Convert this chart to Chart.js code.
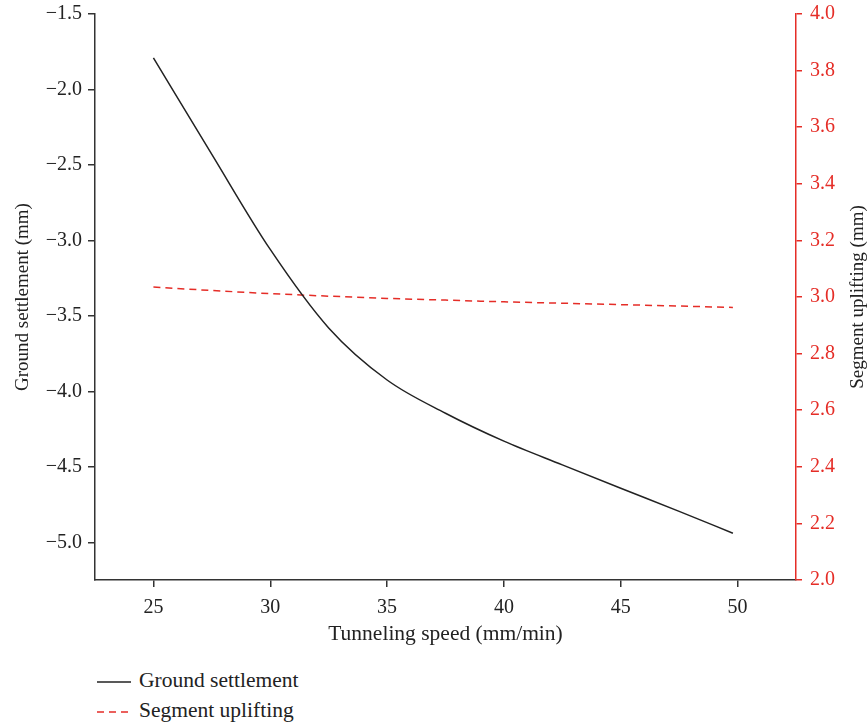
<!DOCTYPE html>
<html>
<head>
<meta charset="utf-8">
<script src="https://cdn.jsdelivr.net/npm/chart.js@4/dist/chart.umd.min.js"></script>
<style>
  body { margin: 0; background: #fff; }
  #wrap { position: relative; width: 868px; height: 650px; }
  .legend { position: absolute; left: 97px; font-family: "Liberation Serif", serif; font-size: 21.5px; color: #222; line-height: 24px; }
  .legend svg { vertical-align: middle; margin-right: 8px; }
</style>
</head>
<body>
<div id="wrap"><canvas id="lineChart" width="868" height="650"></canvas></div>
<div class="legend" style="top:668px"><svg width="34" height="4"><line x1="0" y1="2" x2="34" y2="2" stroke="#222" stroke-width="1.5"/></svg>Ground settlement</div>
<div class="legend" style="top:698px"><svg width="34" height="4"><line x1="0" y1="2" x2="34" y2="2" stroke="#e52d27" stroke-width="1.5" stroke-dasharray="7 5"/></svg>Segment uplifting</div>
<script>
// tunneling speed (mm/min)
const speed = [25, 27.5, 30, 32.5, 35, 37.5, 40, 42.5, 45, 47.5, 49.8];
// ground settlement (mm)
const settlement = [-1.79, -2.43, -3.06, -3.58, -3.925, -4.145, -4.33, -4.487, -4.642, -4.795, -4.94];
// segment uplifting (mm)
const uplifting = [3.035, 3.023, 3.012, 3.003, 2.995, 2.989, 2.983, 2.978, 2.973, 2.968, 2.963];

const xTicks = [25, 30, 35, 40, 45, 50];
const leftTicks = [-1.5, -2.0, -2.5, -3.0, -3.5, -4.0, -4.5, -5.0];
const rightTicks = [2.0, 2.2, 2.4, 2.6, 2.8, 3.0, 3.2, 3.4, 3.6, 3.8, 4.0];
const rightTitle = "Segment uplifting (mm)";

const RED = '#e52d27';
const TICK_FONT = { family: '"Liberation Serif", serif', size: 20 };
const TITLE_FONT = { family: '"Liberation Serif", serif', size: 19 };

function fmt(v) {
  return v.toFixed(1).replace('-', '\u2212');
}

// keep the plot box where the reference has it
function fitY(width) {
  return (scale) => {
    scale.width = width;
    scale.paddingTop = 0;
    scale.paddingBottom = 0;
  };
}

const rightTitlePlugin = {
  id: 'rightTitle',
  afterDraw(chart) {
    const ctx = chart.ctx;
    const area = chart.chartArea;
    ctx.save();
    ctx.translate(858, (area.top + area.bottom) / 2);
    ctx.rotate(-Math.PI / 2);
    ctx.font = '19px "Liberation Serif", serif';
    ctx.fillStyle = '#222';
    ctx.textAlign = 'center';
    ctx.textBaseline = 'middle';
    ctx.fillText(rightTitle, 0, 0);
    ctx.restore();
  }
};

const ctx = document.getElementById('lineChart');
let lineChart = new Chart(ctx, {
  type: 'line',
  data: {
    datasets: [{
      label: 'Ground settlement',
      data: speed.map((s, i) => ({ x: s, y: settlement[i] })),
      borderColor: '#222',
      borderWidth: 1.5,
      pointRadius: 0,
      cubicInterpolationMode: 'monotone',
      yAxisID: 'y'
    }, {
      label: 'Segment uplifting',
      data: speed.map((s, i) => ({ x: s, y: uplifting[i] })),
      borderColor: RED,
      borderWidth: 1.5,
      borderDash: [7, 5],
      pointRadius: 0,
      cubicInterpolationMode: 'monotone',
      yAxisID: 'y2'
    }]
  },
  options: {
    responsive: false,
    animation: false,
    layout: { autoPadding: false, padding: { top: 14, left: 0, right: 0, bottom: 0 } },
    plugins: {
      legend: { display: false },
      tooltip: { enabled: false }
    },
    scales: {
      x: {
        type: 'linear',
        min: 22.5,
        max: 52.5,
        afterBuildTicks: (scale) => { scale.ticks = xTicks.map(v => ({ value: v })); },
        afterFit: (scale) => { scale.height = 70; scale.paddingLeft = 0; scale.paddingRight = 0; },
        border: { color: '#333', width: 1.5 },
        grid: { drawOnChartArea: false, tickLength: 7, color: '#333', lineWidth: 1.5 },
        ticks: { color: '#222', font: TICK_FONT, padding: 9, maxRotation: 0 },
        title: { display: true, text: 'Tunneling speed (mm/min)', color: '#222', font: { family: '"Liberation Serif", serif', size: 21.5 }, padding: { top: 0, bottom: 3 } }
      },
      y: {
        position: 'left',
        min: -5.25,
        max: -1.5,
        afterBuildTicks: (scale) => { scale.ticks = leftTicks.map(v => ({ value: v })); },
        afterFit: fitY(95),
        border: { color: '#333', width: 1.5 },
        grid: { drawOnChartArea: false, tickLength: 7, color: '#333', lineWidth: 1.5 },
        ticks: { color: '#222', font: TICK_FONT, padding: 6, callback: (v) => fmt(v) },
        title: { display: true, text: 'Ground settlement (mm)', color: '#222', font: TITLE_FONT, padding: { top: 12, bottom: 0 } }
      },
      y2: {
        position: 'right',
        min: 2.0,
        max: 4.0,
        afterBuildTicks: (scale) => { scale.ticks = rightTicks.map(v => ({ value: v })); },
        afterFit: fitY(72),
        border: { color: RED, width: 1.5 },
        grid: { drawOnChartArea: false, tickLength: 6, color: RED, lineWidth: 1.5 },
        ticks: { color: RED, font: TICK_FONT, padding: 8, callback: (v) => v.toFixed(1) },
        title: { display: false }
      }
    }
  },
  plugins: [rightTitlePlugin]
});
</script>
</body>
</html>
